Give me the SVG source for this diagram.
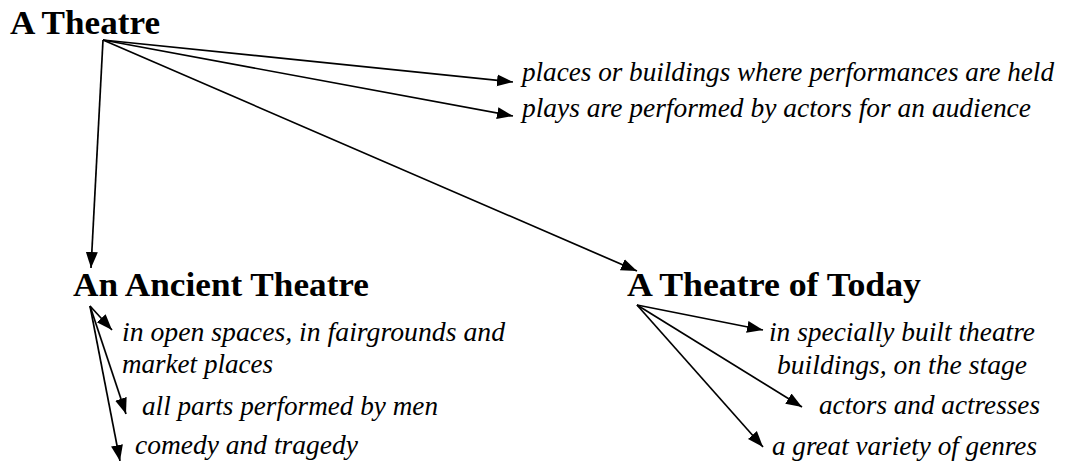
<svg xmlns="http://www.w3.org/2000/svg" width="1067" height="461" viewBox="0 0 1067 461">
  <style>
    .head { font-family: "Liberation Serif", "Times New Roman", serif; font-weight: bold; font-size: 33px; fill: #000; }
    .item { font-family: "Liberation Serif", "Times New Roman", serif; font-style: italic; font-size: 27px; fill: #000; }
    .link { stroke: #000; stroke-width: 1.7; fill: none; marker-end: url(#arrow); }
  </style>
  <defs>
    <marker id="arrow" markerUnits="userSpaceOnUse" markerWidth="17" markerHeight="13" refX="16" refY="6.5" orient="auto">
      <path d="M0,0.5 L16,6.5 L0,12.5 z" fill="#000"/>
    </marker>
  </defs>
  <rect width="1067" height="461" fill="#fff"/>

  <g id="connectors">
    <line class="link" x1="103" y1="40" x2="513" y2="82"/>
    <line class="link" x1="103" y1="40" x2="513" y2="116"/>
    <line class="link" x1="103" y1="40" x2="637" y2="271"/>
    <line class="link" x1="103" y1="40" x2="91" y2="268"/>
    <line class="link" x1="90" y1="306" x2="112" y2="330"/>
    <line class="link" x1="90" y1="306" x2="126" y2="414"/>
    <line class="link" x1="90" y1="306" x2="120" y2="461"/>
    <line class="link" x1="637" y1="305" x2="763" y2="330"/>
    <line class="link" x1="637" y1="305" x2="802" y2="407"/>
    <line class="link" x1="637" y1="305" x2="763" y2="447"/>
  </g>

  <g id="theatre">
    <text class="head" x="10" y="34" textLength="150" lengthAdjust="spacingAndGlyphs">A Theatre</text>
  </g>
  <g id="theatre-places">
    <text class="item" x="522" y="81" textLength="532" lengthAdjust="spacingAndGlyphs">places or buildings where performances are held</text>
  </g>
  <g id="theatre-plays">
    <text class="item" x="522" y="117" textLength="509" lengthAdjust="spacingAndGlyphs">plays are performed by actors for an audience</text>
  </g>

  <g id="ancient">
    <text class="head" x="73" y="296" textLength="296" lengthAdjust="spacingAndGlyphs">An Ancient Theatre</text>
  </g>
  <g id="ancient-where">
    <text class="item" x="122" y="341" textLength="383" lengthAdjust="spacingAndGlyphs">in open spaces, in fairgrounds and</text>
    <text class="item" x="122" y="373" textLength="151" lengthAdjust="spacingAndGlyphs">market places</text>
  </g>
  <g id="ancient-actors">
    <text class="item" x="142" y="415" textLength="296" lengthAdjust="spacingAndGlyphs">all parts performed by men</text>
  </g>
  <g id="ancient-genres">
    <text class="item" x="135" y="454" textLength="223" lengthAdjust="spacingAndGlyphs">comedy and tragedy</text>
  </g>

  <g id="today">
    <text class="head" x="627" y="296" textLength="294" lengthAdjust="spacingAndGlyphs">A Theatre of Today</text>
  </g>
  <g id="today-where">
    <text class="item" x="769" y="341" textLength="266" lengthAdjust="spacingAndGlyphs">in specially built theatre</text>
    <text class="item" x="777" y="374" textLength="250" lengthAdjust="spacingAndGlyphs">buildings, on the stage</text>
  </g>
  <g id="today-actors">
    <text class="item" x="819" y="414" textLength="221" lengthAdjust="spacingAndGlyphs">actors and actresses</text>
  </g>
  <g id="today-genres">
    <text class="item" x="772" y="455" textLength="265" lengthAdjust="spacingAndGlyphs">a great variety of genres</text>
  </g>
</svg>
